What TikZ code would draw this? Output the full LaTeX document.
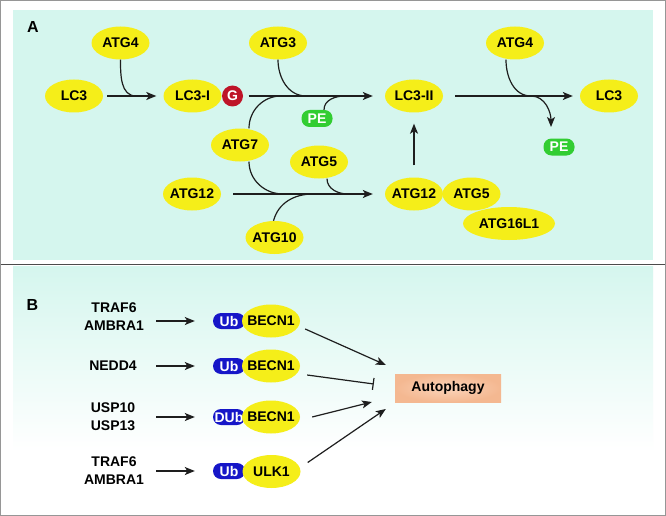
\documentclass[tikz,border=0pt]{standalone}
\usepackage{fontspec}
\setmainfont{Liberation Sans}
\usetikzlibrary{arrows.meta,shapes.geometric}
\definecolor{cyanbg}{RGB}{213,246,238}
\definecolor{yel}{RGB}{245,238,25}
\definecolor{ubblue}{RGB}{22,22,200}
\definecolor{pegreen}{RGB}{50,205,50}
\definecolor{gred}{RGB}{190,20,40}
\definecolor{linec}{RGB}{30,30,30}
\definecolor{autoin}{RGB}{251,212,186}
\definecolor{autoout}{RGB}{244,184,145}
\definecolor{bordergray}{RGB}{150,150,150}
\begin{document}
\begin{tikzpicture}[x=1pt,y=1pt,
  every node/.style={font=\bfseries\fontsize{14}{18}\selectfont, text=black},
  yel/.style={ellipse, fill=yel, minimum width=58pt, minimum height=33pt, inner xsep=-14pt, inner ysep=-5pt},
  pes/.style={rectangle, rounded corners=8pt, fill=pegreen, text=white, minimum width=31pt, minimum height=17pt, inner sep=0pt},
  ubs/.style={rectangle, rounded corners=8pt, fill=ubblue, text=white, minimum width=32pt, minimum height=16pt, inner sep=0pt},
  gnode/.style={circle, fill=gred, text=white, minimum size=21pt, inner sep=0pt},
  lbl/.style={align=center, text width=64pt, inner sep=0pt},
  autobox/.style={rectangle, inner color=autoin, outer color=autoout, minimum width=106pt, minimum height=28pt, inner sep=0pt},
  panellbl/.style={font=\bfseries\fontsize{16}{18}\selectfont, inner sep=0pt},
  ln/.style={draw=linec, line width=1.2pt},
  arr/.style={ln, -{Stealth[length=10pt,width=8pt,inset=2.5pt]}},
  inh/.style={ln, -{Bar[width=12pt,line width=1.2pt]}}]
\useasboundingbox (0,0) rectangle (666,-516);
\fill[white] (0,0) rectangle (666,-516);
\fill[cyanbg] (13,-10) rectangle (653,-260);
\shade[top color=cyanbg, bottom color=white] (13,-266) rectangle (653,-452);
\draw[bordergray, line width=1.2pt] (0.75,-0.75) rectangle (665.25,-515.25);
\draw[linec!80, line width=1pt] (0.75,-264) -- (665.25,-264);

\node[panellbl] (lA) at (33,-27) {A};
\node[panellbl] (lB) at (32.5,-305) {B};

% Panel A nodes
\node[yel] (atg4a) at (120.5,-43) {ATG4};
\node[yel] (lc3a) at (74,-96) {LC3};
\node[yel] (lc3i) at (192.5,-96) {LC3-I};
\node[gnode] (g) at (232.5,-96) {G};
\node[yel] (atg3) at (278,-43) {ATG3};
\node[yel] (atg7) at (240,-145) {ATG7};
\node[pes] (pe1) at (317,-118.5) {PE};
\node[yel] (atg5a) at (319,-162) {ATG5};
\node[yel] (atg12a) at (192,-194) {ATG12};
\node[yel] (atg10) at (274.5,-237.5) {ATG10};
\node[yel] (lc3ii) at (414,-96) {LC3-II};
\node[yel, minimum width=92pt] (atg16) at (509,-223.5) {ATG16L1};
\node[yel] (atg12b) at (414,-194) {ATG12};
\node[yel] (atg5b) at (471.5,-194) {ATG5};
\node[yel] (atg4b) at (515,-43) {ATG4};
\node[yel] (lc3b) at (609,-96) {LC3};
\node[pes] (pe2) at (559,-147) {PE};

\coordinate (j1) at (136,-96);
\coordinate (j3) at (306,-96);
\coordinate (j7u) at (281,-96);
\coordinate (jpe) at (345,-96);
\coordinate (j7d) at (283,-194);
\coordinate (j10) at (313,-194);
\coordinate (j5) at (348,-194);
\coordinate (j4b) at (531,-96);
\coordinate (pe2tip) at (551,-127);

% Panel A connectors
\draw[arr, shorten <=4pt, shorten >=7pt] (lc3a) -- (lc3i);
\draw[arr, shorten <=5.5pt, shorten >=12pt] (g) -- (lc3ii);
\draw[arr, shorten <=12pt, shorten >=7pt] (lc3ii) -- (lc3b);
\draw[arr, shorten <=12pt, shorten >=12pt] (atg12a) -- (atg12b);
\draw[arr, shorten <=12pt, shorten >=11pt] (atg12b) -- (lc3ii);

\draw[ln] (atg4a.south) to[out=-90,in=180] (j1);
\draw[ln] (atg3.south) to[out=-90,in=180] (j3);
\draw[ln] ([xshift=9pt]atg7.north) to[out=90,in=180] (j7u);
\draw[ln] ([xshift=9pt]atg7.south) to[out=-90,in=180] (j7d);
\draw[ln] ([xshift=-1pt]atg10.north) to[out=75,in=180] (j10);
\draw[ln] ([xshift=8pt]atg5a.south) to[out=-90,in=180] (j5);
\draw[ln] ([xshift=7pt]pe1.north) to[out=90,in=180] (jpe);
\draw[arr] ([xshift=-9pt]atg4b.south) to[out=-90,in=180] (j4b) to[out=0,in=90] (pe2tip);

% Panel B nodes
\node[lbl] (t1) at (114,-317) {TRAF6\\AMBRA1};
\node[ubs] (ub1) at (229,-321) {Ub};
\node[yel] (b1) at (271,-321) {BECN1};
\node[lbl] (t2) at (113,-366) {NEDD4};
\node[ubs] (ub2) at (229,-366) {Ub};
\node[yel] (b2) at (271,-366) {BECN1};
\node[lbl] (t3) at (113,-417) {USP10\\USP13};
\node[ubs] (ub3) at (229,-417) {DUb};
\node[yel] (b3) at (271,-417) {BECN1};
\node[lbl] (t4) at (114,-470.5) {TRAF6\\AMBRA1};
\node[ubs] (ub4) at (229,-471) {Ub};
\node[yel] (u4) at (271.5,-471.5) {ULK1};
\node[autobox] (aut) at (448,-388) {Autophagy};

\draw[arr, shorten <=10pt, shorten >=18pt] (t1.east |- ub1.west) -- (ub1.west);
\draw[arr, shorten <=10pt, shorten >=18pt] (t1.east |- ub2.west) -- (ub2.west);
\draw[arr, shorten <=10pt, shorten >=18pt] (t1.east |- ub3.west) -- (ub3.west);
\draw[arr, shorten <=10pt, shorten >=18pt] (t1.east |- ub4.west) -- (ub4.west);

\coordinate (a1) at ([shift={(-9,23)}]aut.west);
\coordinate (a2) at ([shift={(-21,4)}]aut.west);
\coordinate (a3) at ([shift={(-23,-14)}]aut.west);
\coordinate (a4) at ([shift={(-9,-21)}]aut.west);
\draw[arr] ([shift={(5,-8)}]b1.east) -- (a1);
\draw[inh] ([shift={(7,-9)}]b2.east) -- (a2);
\draw[arr] ([shift={(12,0)}]b3.east) -- (a3);
\draw[arr] ([shift={(7,9)}]u4.east) -- (a4);
\end{tikzpicture}
\end{document}
